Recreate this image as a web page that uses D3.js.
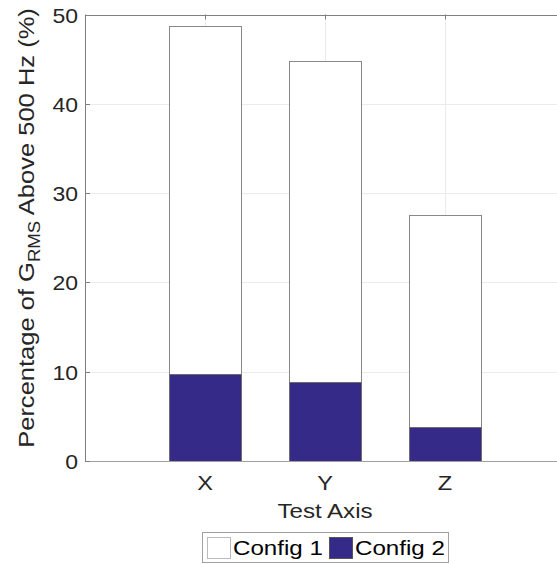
<!DOCTYPE html>
<html>
<head>
<meta charset="utf-8">
<script src="https://cdn.jsdelivr.net/npm/d3@7"></script>
<style>
  html, body { margin: 0; padding: 0; background: #fff; }
  svg { display: block; }
  text { font-family: "Liberation Sans", Arial, Helvetica, sans-serif; }
</style>
</head>
<body>
<svg id="chart" width="557" height="564"></svg>
<script>
const categories = ["X", "Y", "Z"];
const config1 = [48.7, 44.8, 27.6];
const config2 = [9.75, 8.9, 3.85];
const seriesNames = ["Config 1", "Config 2"];
const yTicks = [0, 10, 20, 30, 40, 50];

const svg = d3.select("#chart");
const mLeft = 85, mRight = 565, mTop = 14.5, mBottom = 461;
const axisColor = "#7f7f7f";
const blue = "#352a87";
const SX = 1.15; // horizontal glyph stretch to match the reference font

const x = d3.scaleLinear().domain([0, 4]).range([mLeft, mRight]);
const y = d3.scaleLinear().domain([0, 50]).range([mBottom, mTop]);
const pos = categories.map((c, i) => i + 1);
const barW = 0.6;

// grid
const g = svg.append("g");
g.selectAll("line.hg").data(yTicks).join("line")
  .attr("x1", mLeft).attr("x2", mRight)
  .attr("y1", d => Math.round(y(d)) + 0.5).attr("y2", d => Math.round(y(d)) + 0.5)
  .attr("stroke", "#ebebeb").attr("stroke-width", 1);
g.selectAll("line.vg").data(pos).join("line")
  .attr("x1", d => Math.round(x(d)) + 0.5).attr("x2", d => Math.round(x(d)) + 0.5)
  .attr("y1", mTop).attr("y2", mBottom)
  .attr("stroke", "#ebebeb").attr("stroke-width", 1);

// bars Config 1
svg.selectAll("rect.c1").data(config1).join("rect")
  .attr("x", (d, i) => Math.round(x(pos[i] - barW / 2)) + 0.5)
  .attr("width", (d, i) => Math.round(x(pos[i] + barW / 2)) - Math.round(x(pos[i] - barW / 2)))
  .attr("y", d => Math.round(y(d)) + 0.5)
  .attr("height", d => Math.round(y(0)) - Math.round(y(d)))
  .attr("fill", "#ffffff").attr("stroke", "#888888").attr("stroke-width", 1);

// bars Config 2
svg.selectAll("rect.c2").data(config2).join("rect")
  .attr("x", (d, i) => Math.round(x(pos[i] - barW / 2)) + 0.5)
  .attr("width", (d, i) => Math.round(x(pos[i] + barW / 2)) - Math.round(x(pos[i] - barW / 2)))
  .attr("y", d => Math.round(y(d)) + 0.5)
  .attr("height", d => Math.round(y(0)) - Math.round(y(d)))
  .attr("fill", blue).attr("stroke", "#6e6e6e").attr("stroke-width", 1);

// axes box
const ax = svg.append("g");
ax.append("line").attr("x1", mLeft + 0.5).attr("x2", mLeft + 0.5).attr("y1", mTop).attr("y2", mBottom + 0.5)
  .attr("stroke", axisColor);
ax.append("line").attr("x1", mLeft).attr("x2", mRight).attr("y1", Math.round(mTop) + 0.5).attr("y2", Math.round(mTop) + 0.5)
  .attr("stroke", axisColor);
ax.append("line").attr("x1", mLeft).attr("x2", mRight).attr("y1", Math.round(mBottom) + 0.5).attr("y2", Math.round(mBottom) + 0.5)
  .attr("stroke", "#a0a0a0");

// y ticks (inward)
ax.selectAll("line.yt").data(yTicks).join("line")
  .attr("x1", mLeft).attr("x2", mLeft + 5)
  .attr("y1", d => Math.round(y(d)) + 0.5).attr("y2", d => Math.round(y(d)) + 0.5)
  .attr("stroke", axisColor);
// x ticks (inward, top)
ax.selectAll("line.xt").data(pos).join("line")
  .attr("x1", d => Math.round(x(d)) + 0.5).attr("x2", d => Math.round(x(d)) + 0.5)
  .attr("y1", mTop).attr("y2", mTop + 5)
  .attr("stroke", axisColor);

// y tick labels
ax.selectAll("text.yl").data(yTicks).join("text")
  .attr("transform", d => `translate(${mLeft - 7},${y(d) + 1}) scale(${SX},1)`)
  .attr("dy", "0.35em")
  .attr("text-anchor", "end")
  .attr("font-size", 20).attr("fill", "#262626")
  .text(d => d);

// x tick labels
ax.selectAll("text.xl").data(categories).join("text")
  .attr("transform", (d, i) => `translate(${x(pos[i])},490) scale(${SX},1)`)
  .attr("text-anchor", "middle")
  .attr("font-size", 20.5).attr("fill", "#262626")
  .text(d => d);

// x label
svg.append("text")
  .attr("transform", `translate(${x(2)},518) scale(${SX},1)`)
  .attr("text-anchor", "middle").attr("font-size", 21).attr("fill", "#262626")
  .text("Test Axis");

// y label
const yl = svg.append("text")
  .attr("transform", `translate(34,228) rotate(-90) scale(1.16,1)`)
  .attr("text-anchor", "middle").attr("font-size", 22).attr("fill", "#262626");
yl.append("tspan").text("Percentage of G");
yl.append("tspan").attr("font-size", 16).attr("dy", 6).text("RMS");
yl.append("tspan").attr("dy", -6).text(" Above 500 Hz (%)");

// legend
const lg = svg.append("g");
lg.append("rect").attr("x", 202.5).attr("y", 532.5).attr("width", 246).attr("height", 30)
  .attr("fill", "#fff").attr("stroke", "#a0a0a0");
const sw = [{x: 207, fill: "#ffffff", stroke: "#bbbbbb"}, {x: 329, fill: blue, stroke: "#555"}];
lg.selectAll("rect.sw").data(seriesNames).join("rect")
  .attr("x", (d, i) => sw[i].x + 0.5).attr("y", 537.5).attr("width", 23).attr("height", 21)
  .attr("fill", (d, i) => sw[i].fill).attr("stroke", (d, i) => sw[i].stroke).attr("stroke-width", 1);
lg.selectAll("text.lt").data(seriesNames).join("text")
  .attr("transform", (d, i) => `translate(${sw[i].x + 26},555) scale(${SX},1)`)
  .attr("font-size", 21).attr("fill", "#000")
  .text(d => d);
</script>
</body>
</html>
